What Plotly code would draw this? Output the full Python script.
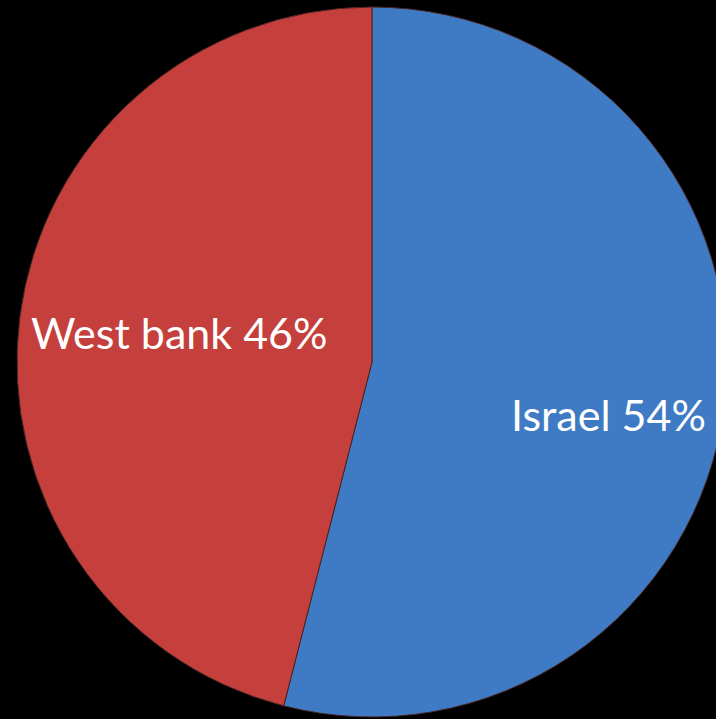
import plotly.graph_objects as go

labels = ["Israel", "West bank"]
values = [54, 46]
colors = ["#3F7AC4", "#C5403C"]

W, H = 744, 719
fig = go.Figure()
fig.add_trace(go.Pie(
    labels=labels, values=values, sort=False, direction="clockwise", rotation=0,
    marker=dict(colors=colors, line=dict(color="#4a2422", width=1)),
    textinfo="none", hoverinfo="label+percent", showlegend=False,
    domain=dict(x=[0, 1], y=[2 / 719, 712 / 719]),
))

total = sum(values)
label_pos = {"Israel": (608, 415), "West bank": (179, 332)}
for lab, val in zip(labels, values):
    px, py = label_pos[lab]
    fig.add_annotation(
        x=px / W, y=1 - py / H, xref="paper", yref="paper",
        text=f"{lab} {round(100 * val / total)}%", showarrow=False,
        font=dict(family="Lato", size=43, color="white"),
        xanchor="center", yanchor="middle",
    )

fig.update_layout(
    width=W, height=H, margin=dict(l=0, r=0, t=0, b=0),
    paper_bgcolor="black", plot_bgcolor="black",
)
fig.write_html("out.html", post_script="document.body.style.overflow='hidden';document.documentElement.style.overflow='hidden';")
